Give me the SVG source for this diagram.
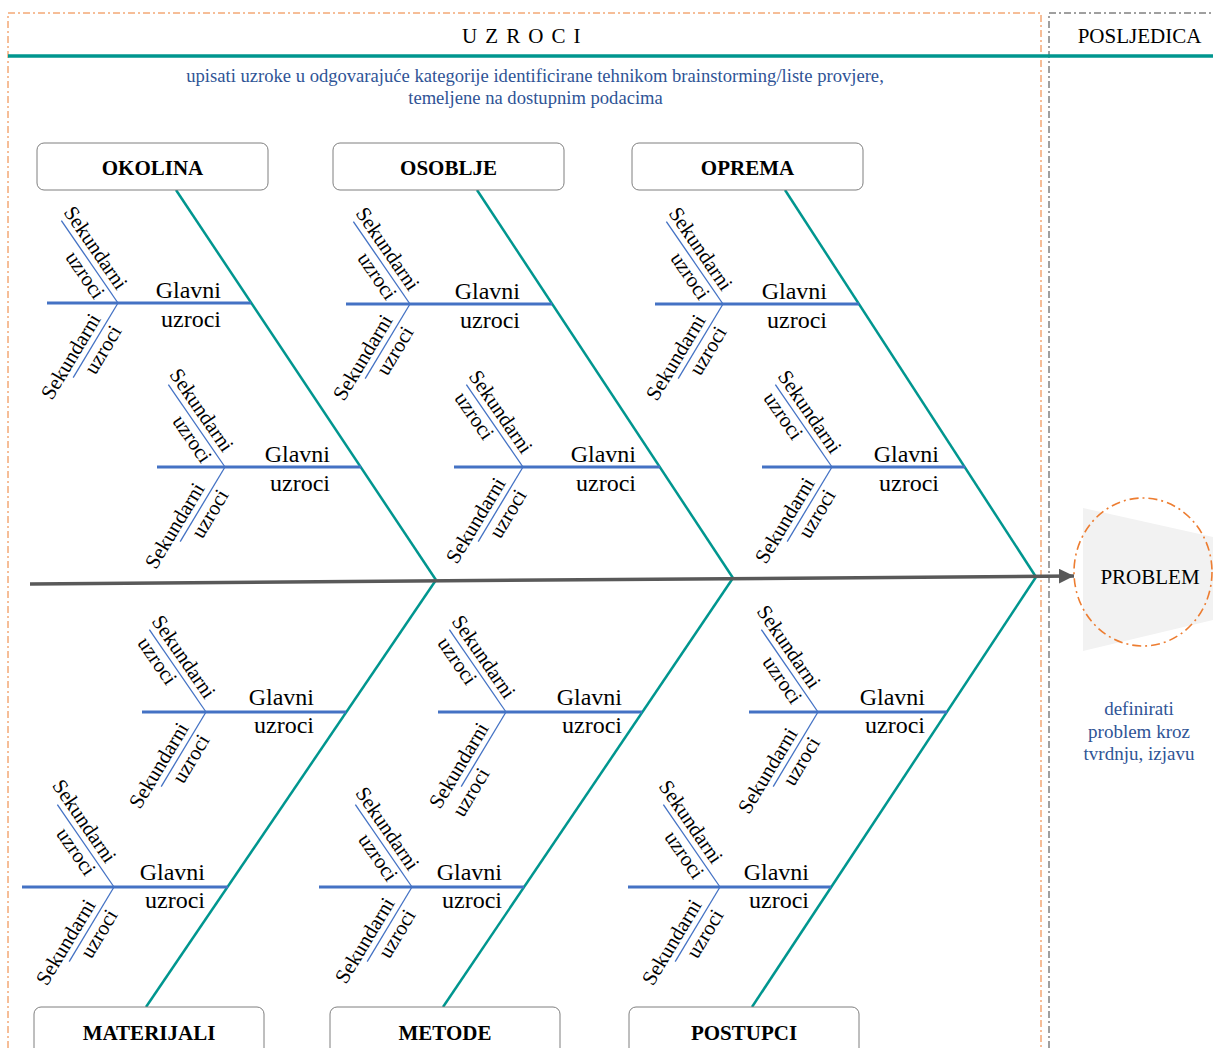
<svg xmlns="http://www.w3.org/2000/svg" width="1213" height="1048" viewBox="0 0 1213 1048">
<style>
text{font-family:"Liberation Serif","Times New Roman",serif;fill:#000}
.frame{fill:none;stroke:#ED7D31;stroke-width:1;stroke-dasharray:7 3 2 3}
.frame2{fill:none;stroke:#404040;stroke-width:1;stroke-dasharray:7 3 2 3}
.hdr{font-size:21px;text-anchor:middle}
.note{font-size:18.6px;fill:#2F5496;text-anchor:middle}
.note2{font-size:19px;fill:#2F5496;text-anchor:middle}
.box{fill:#fff;stroke:#7F7F7F;stroke-width:1}
.cat{font-size:21px;font-weight:bold;text-anchor:middle}
.bone{stroke:#00968F;stroke-width:2.5;fill:none}
.main{stroke:#4472C4;stroke-width:2.8}
.sec{stroke:#4472C4;stroke-width:1.3}
.gl{font-size:24px;text-anchor:end}
.sk{font-size:21px}
</style>
<defs>
<marker id="arrow" markerUnits="userSpaceOnUse" markerWidth="16" markerHeight="16" refX="15" refY="7.5" orient="auto">
<path d="M0,0 L15,7.5 L0,15 z" fill="#595959"/>
</marker>
</defs>
<rect width="1213" height="1048" fill="#fff"/>

<g id="frame">
<path class="frame" d="M8,1048 V13 H1041 V1048"/>
<path class="frame2" d="M1049,1048 V13 H1213"/>
<line x1="8" y1="56" x2="1213" y2="56" stroke="#00968F" stroke-width="3.5"/>
<text class="hdr" x="522" y="43" letter-spacing="1.4">U Z R O C I</text>
<text class="hdr" x="1139.5" y="43">POSLJEDICA</text>
<text class="note" x="535" y="82">upisati uzroke u odgovarajuće kategorije identificirane tehnikom brainstorming/liste provjere,</text>
<text class="note" x="535.5" y="104">temeljene na dostupnim podacima</text>
</g>

<g id="connectors">
<line class="bone" x1="176" y1="190" x2="436" y2="580"/>
<line class="bone" x1="477" y1="190" x2="733" y2="578"/>
<line class="bone" x1="785" y1="190" x2="1036" y2="577"/>
<line class="bone" x1="146" y1="1007" x2="436" y2="580"/>
<line class="bone" x1="443" y1="1007" x2="733" y2="578"/>
<line class="bone" x1="752" y1="1007" x2="1036" y2="577"/>
<line x1="30" y1="584" x2="1074" y2="576" stroke="#595959" stroke-width="3.5" marker-end="url(#arrow)"/>
</g>

<g id="okolina"><rect class="box" x="37" y="143" width="231" height="47" rx="7"/><text class="cat" x="152.5" y="175">OKOLINA</text></g>
<g id="osoblje"><rect class="box" x="333" y="143" width="231" height="47" rx="7"/><text class="cat" x="448.5" y="175">OSOBLJE</text></g>
<g id="oprema"><rect class="box" x="632" y="143" width="231" height="47" rx="7"/><text class="cat" x="747.5" y="175">OPREMA</text></g>
<g id="materijali"><rect class="box" x="34" y="1007" width="230" height="50" rx="7"/><text class="cat" x="149" y="1040">MATERIJALI</text></g>
<g id="metode"><rect class="box" x="330" y="1007" width="230" height="50" rx="7"/><text class="cat" x="445" y="1040">METODE</text></g>
<g id="postupci"><rect class="box" x="629" y="1007" width="230" height="50" rx="7"/><text class="cat" x="744" y="1040">POSTUPCI</text></g>

<g id="problem">
<polygon points="1083,508 1213,537 1213,620 1083,651" fill="#F2F2F2"/>
<ellipse cx="1143" cy="572" rx="69" ry="74" fill="none" stroke="#ED7D31" stroke-width="1.6" stroke-dasharray="9 4 2 4"/>
<text x="1150" y="584" font-size="21" text-anchor="middle">PROBLEM</text>
<text class="note2" x="1139" y="715">definirati</text>
<text class="note2" x="1139" y="738">problem kroz</text>
<text class="note2" x="1139" y="760">tvrdnju, izjavu</text>
</g>

<g id="okolina-1" transform="translate(118,303)">
<line class="main" x1="-71" y1="0" x2="133" y2="0"/>
<text class="gl" x="103" y="-5">Glavni</text><text class="gl" x="103" y="24">uzroci</text>
<g transform="rotate(55.5)"><line class="sec" x1="-100" y1="0" x2="0" y2="0"/><text class="sk" x="-106" y="-6">Sekundarni</text><text class="sk" x="-68" y="18">uzroci</text></g>
<g transform="rotate(-59)"><line class="sec" x1="-87" y1="0" x2="0" y2="0"/><text class="sk" x="-118" y="-6">Sekundarni</text><text class="sk" x="-74" y="18">uzroci</text></g>
</g>
<g id="okolina-2" transform="translate(225,467)">
<line class="main" x1="-68" y1="0" x2="136" y2="0"/>
<text class="gl" x="105" y="-5">Glavni</text><text class="gl" x="105" y="24">uzroci</text>
<g transform="rotate(55.5)"><line class="sec" x1="-100" y1="0" x2="0" y2="0"/><text class="sk" x="-108" y="-6">Sekundarni</text><text class="sk" x="-68" y="18">uzroci</text></g>
<g transform="rotate(-59)"><line class="sec" x1="-87" y1="0" x2="0" y2="0"/><text class="sk" x="-124" y="-6">Sekundarni</text><text class="sk" x="-74" y="18">uzroci</text></g>
</g>
<g id="osoblje-1" transform="translate(410,304)">
<line class="main" x1="-64" y1="0" x2="142" y2="0"/>
<text class="gl" x="110" y="-5">Glavni</text><text class="gl" x="110" y="24">uzroci</text>
<g transform="rotate(55.5)"><line class="sec" x1="-100" y1="0" x2="0" y2="0"/><text class="sk" x="-106" y="-6">Sekundarni</text><text class="sk" x="-68" y="18">uzroci</text></g>
<g transform="rotate(-59)"><line class="sec" x1="-87" y1="0" x2="0" y2="0"/><text class="sk" x="-118" y="-6">Sekundarni</text><text class="sk" x="-74" y="18">uzroci</text></g>
</g>
<g id="osoblje-2" transform="translate(523,467)">
<line class="main" x1="-69" y1="0" x2="137" y2="0"/>
<text class="gl" x="113" y="-5">Glavni</text><text class="gl" x="113" y="24">uzroci</text>
<g transform="rotate(55.5)"><line class="sec" x1="-100" y1="0" x2="0" y2="0"/><text class="sk" x="-106" y="-6">Sekundarni</text><text class="sk" x="-96" y="18">uzroci</text></g>
<g transform="rotate(-59)"><line class="sec" x1="-87" y1="0" x2="0" y2="0"/><text class="sk" x="-118" y="-6">Sekundarni</text><text class="sk" x="-74" y="18">uzroci</text></g>
</g>
<g id="oprema-1" transform="translate(723,304)">
<line class="main" x1="-68" y1="0" x2="136" y2="0"/>
<text class="gl" x="104" y="-5">Glavni</text><text class="gl" x="104" y="24">uzroci</text>
<g transform="rotate(55.5)"><line class="sec" x1="-100" y1="0" x2="0" y2="0"/><text class="sk" x="-106" y="-6">Sekundarni</text><text class="sk" x="-68" y="18">uzroci</text></g>
<g transform="rotate(-59)"><line class="sec" x1="-87" y1="0" x2="0" y2="0"/><text class="sk" x="-118" y="-6">Sekundarni</text><text class="sk" x="-74" y="18">uzroci</text></g>
</g>
<g id="oprema-2" transform="translate(832,467)">
<line class="main" x1="-70" y1="0" x2="133" y2="0"/>
<text class="gl" x="107" y="-5">Glavni</text><text class="gl" x="107" y="24">uzroci</text>
<g transform="rotate(55.5)"><line class="sec" x1="-100" y1="0" x2="0" y2="0"/><text class="sk" x="-106" y="-6">Sekundarni</text><text class="sk" x="-96" y="18">uzroci</text></g>
<g transform="rotate(-59)"><line class="sec" x1="-87" y1="0" x2="0" y2="0"/><text class="sk" x="-118" y="-6">Sekundarni</text><text class="sk" x="-74" y="18">uzroci</text></g>
</g>
<g id="materijali-1" transform="translate(206,712)">
<line class="main" x1="-64" y1="0" x2="140" y2="0"/>
<text class="gl" x="108" y="-7">Glavni</text><text class="gl" x="108" y="21">uzroci</text>
<g transform="rotate(55.5)"><line class="sec" x1="-100" y1="0" x2="0" y2="0"/><text class="sk" x="-106" y="-6">Sekundarni</text><text class="sk" x="-96" y="18">uzroci</text></g>
<g transform="rotate(-59)"><line class="sec" x1="-87" y1="0" x2="0" y2="0"/><text class="sk" x="-118" y="-6">Sekundarni</text><text class="sk" x="-74" y="18">uzroci</text></g>
</g>
<g id="materijali-2" transform="translate(114,887)">
<line class="main" x1="-92" y1="0" x2="114" y2="0"/>
<text class="gl" x="91" y="-7">Glavni</text><text class="gl" x="91" y="21">uzroci</text>
<g transform="rotate(55.5)"><line class="sec" x1="-100" y1="0" x2="0" y2="0"/><text class="sk" x="-119" y="-6">Sekundarni</text><text class="sk" x="-77" y="18">uzroci</text></g>
<g transform="rotate(-59)"><line class="sec" x1="-87" y1="0" x2="0" y2="0"/><text class="sk" x="-120" y="-6">Sekundarni</text><text class="sk" x="-74" y="18">uzroci</text></g>
</g>
<g id="metode-1" transform="translate(506,712)">
<line class="main" x1="-68" y1="0" x2="136" y2="0"/>
<text class="gl" x="116" y="-7">Glavni</text><text class="gl" x="116" y="21">uzroci</text>
<g transform="rotate(55.5)"><line class="sec" x1="-100" y1="0" x2="0" y2="0"/><text class="sk" x="-106" y="-6">Sekundarni</text><text class="sk" x="-96" y="18">uzroci</text></g>
<g transform="rotate(-59)"><line class="sec" x1="-87" y1="0" x2="0" y2="0"/><text class="sk" x="-118" y="-6">Sekundarni</text><text class="sk" x="-113" y="18">uzroci</text></g>
</g>
<g id="metode-2" transform="translate(412,887)">
<line class="main" x1="-93" y1="0" x2="112" y2="0"/>
<text class="gl" x="90" y="-7">Glavni</text><text class="gl" x="90" y="21">uzroci</text>
<g transform="rotate(55.5)"><line class="sec" x1="-100" y1="0" x2="0" y2="0"/><text class="sk" x="-110" y="-6">Sekundarni</text><text class="sk" x="-70" y="18">uzroci</text></g>
<g transform="rotate(-59)"><line class="sec" x1="-87" y1="0" x2="0" y2="0"/><text class="sk" x="-118" y="-6">Sekundarni</text><text class="sk" x="-74" y="18">uzroci</text></g>
</g>
<g id="postupci-1" transform="translate(818,712)">
<line class="main" x1="-69" y1="0" x2="129" y2="0"/>
<text class="gl" x="107" y="-7">Glavni</text><text class="gl" x="107" y="21">uzroci</text>
<g transform="rotate(55.5)"><line class="sec" x1="-100" y1="0" x2="0" y2="0"/><text class="sk" x="-118" y="-6">Sekundarni</text><text class="sk" x="-73" y="18">uzroci</text></g>
<g transform="rotate(-59)"><line class="sec" x1="-87" y1="0" x2="0" y2="0"/><text class="sk" x="-124" y="-6">Sekundarni</text><text class="sk" x="-77" y="18">uzroci</text></g>
</g>
<g id="postupci-2" transform="translate(720,887)">
<line class="main" x1="-92" y1="0" x2="111" y2="0"/>
<text class="gl" x="89" y="-7">Glavni</text><text class="gl" x="89" y="21">uzroci</text>
<g transform="rotate(55.5)"><line class="sec" x1="-100" y1="0" x2="0" y2="0"/><text class="sk" x="-118" y="-6">Sekundarni</text><text class="sk" x="-73" y="18">uzroci</text></g>
<g transform="rotate(-59)"><line class="sec" x1="-87" y1="0" x2="0" y2="0"/><text class="sk" x="-120" y="-6">Sekundarni</text><text class="sk" x="-74" y="18">uzroci</text></g>
</g>
</svg>
